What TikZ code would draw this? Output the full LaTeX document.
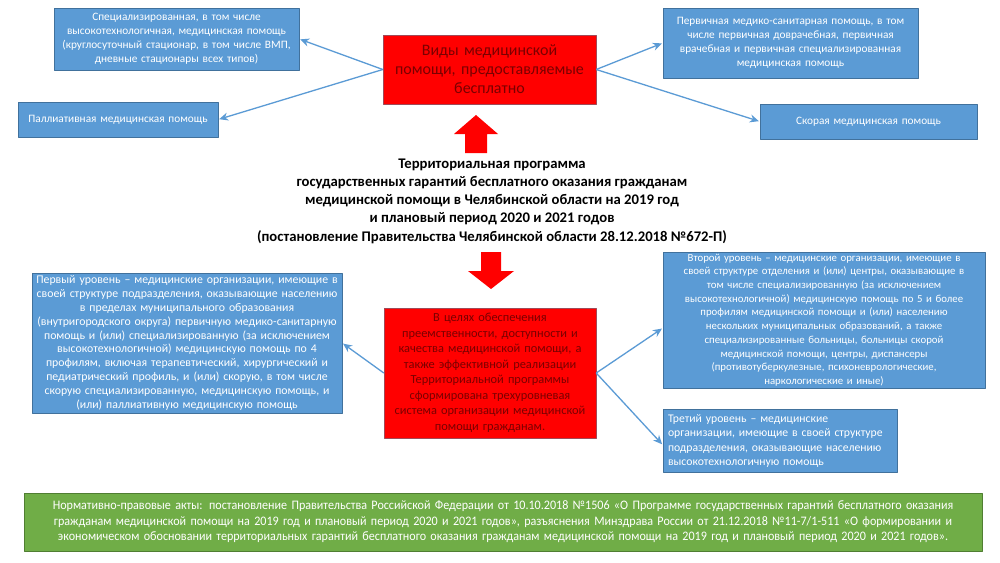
\documentclass[tikz,border=0pt]{standalone}
\usepackage{fontspec}
\setmainfont{Carlito}
\newfontfamily\narrowfont[FakeStretch=0.93]{Carlito}
\usetikzlibrary{arrows.meta}
\definecolor{boxblue}{HTML}{5B9BD5}
\definecolor{boxedge}{HTML}{41719C}
\definecolor{rededge}{HTML}{A04A58}
\definecolor{redtext}{HTML}{7A0000}
\definecolor{actgreen}{HTML}{70AD47}
\definecolor{actedge}{HTML}{507E32}
\begin{document}
\begin{tikzpicture}[x=1pt, y=-1pt, line join=round,
  bluebox/.style={draw=boxedge, fill=boxblue, text=white, align=center, inner sep=2pt, font=\fontsize{11.3}{14}\selectfont},
  redbox/.style={draw=rededge, fill=red, text=redtext, align=center, inner sep=2pt, font=\fontsize{12.4}{15.5}\selectfont},
  actbox/.style={draw=actedge, fill=actgreen, text=white, align=center, inner sep=2pt, font=\narrowfont\fontsize{13}{15.5}\selectfont},
  conn/.style={draw=boxblue, line width=1.3pt, -{Stealth[length=9pt, width=8pt]}, shorten >=1pt},
  bigarrow/.style={fill=red}]
  \fill[white] (0,0) rectangle (1000,562);
  \useasboundingbox (0,0) rectangle (1000,562);

  % top part
  \node[redbox, minimum width=213pt, minimum height=69pt, text width=209pt, font=\fontsize{16}{19}\selectfont] (types) at (489.5,69.5)
    {Виды медицинской\\ помощи, предоставляемые\\ бесплатно};
  \node[bluebox, minimum width=245pt, minimum height=62pt, text width=241pt] (spec) at (176.5,39)
    {Специализированная, в том числе\\ высокотехнологичная, медицинская помощь\\ (круглосуточный стационар, в том числе ВМП,\\ дневные стационары всех типов)};
  \node[bluebox, minimum width=200pt, minimum height=35pt, text width=196pt] (pall) at (118,119.5)
    {Паллиативная медицинская помощь};
  \node[bluebox, minimum width=255pt, minimum height=70pt, text width=251pt] (prim) at (790.5,43)
    {Первичная медико-санитарная помощь, в том\\ числе первичная доврачебная, первичная\\ врачебная и первичная специализированная\\ медицинская помощь};
  \node[bluebox, minimum width=217pt, minimum height=35pt, text width=213pt] (skor) at (868.5,121.5)
    {Скорая медицинская помощь};

  \draw[conn] (types.west) -- (spec.east);
  \draw[conn] (types.west) -- (pall.east);
  \draw[conn] (types.east) -- (prim.west);
  \draw[conn] (types.east) -- (skor.west);

  % programme
  \fill[bigarrow] (465,153) -- (465,134) -- (454,134) -- (476,115) -- (498,134) -- (487,134) -- (487,153) -- cycle;
  \node[align=center, font=\bfseries\fontsize{14.7}{18.3}\selectfont] (prog) at (492,201)
    {Территориальная программа\\ государственных гарантий бесплатного оказания гражданам\\ медицинской помощи в Челябинской области на 2019 год\\ и плановый период 2020 и 2021 годов\\ (постановление Правительства Челябинской области 28.12.2018 №672-П)};
  \fill[bigarrow] (481,252) -- (501,252) -- (501,271) -- (514,271) -- (491,289) -- (468,271) -- (481,271) -- cycle;

  % levels
  \node[redbox, minimum width=212pt, minimum height=130pt, text width=208pt] (goal) at (490,373)
    {В целях обеспечения\\ преемственности, доступности и\\ качества медицинской помощи, а\\ также эффективной реализации\\ Территориальной программы\\ сформирована трехуровневая\\ система организации медицинской\\ помощи гражданам.};
  \node[bluebox, minimum width=310pt, minimum height=140pt, text width=306pt, font=\fontsize{11.8}{13.8}\selectfont] (lvl1) at (187,343)
    {Первый уровень – медицинские организации, имеющие в\\ своей структуре подразделения, оказывающие населению\\ в пределах муниципального образования\\ (внутригородского округа) первичную медико-санитарную\\ помощь и (или) специализированную (за исключением\\ высокотехнологичной) медицинскую помощь по 4\\ профилям, включая терапевтический, хирургический и\\ педиатрический профиль, и (или) скорую, в том числе\\ скорую специализированную, медицинскую помощь, и\\ (или) паллиативную медицинскую помощь};
  \node[bluebox, minimum width=322pt, minimum height=136pt, text width=318pt, font=\fontsize{10.8}{13.7}\selectfont] (lvl2) at (824,320)
    {Второй уровень – медицинские организации, имеющие в\\ своей структуре отделения и (или) центры, оказывающие в\\ том числе специализированную (за исключением\\ высокотехнологичной) медицинскую помощь по 5 и более\\ профилям медицинской помощи и (или) населению\\ нескольких муниципальных образований, а также\\ специализированные больницы, больницы скорой\\ медицинской помощи, центры, диспансеры\\ (противотуберкулезные, психоневрологические,\\ наркологические и иные)};
  \node[bluebox, align=left, minimum width=234pt, minimum height=62pt, text width=224pt, inner sep=5pt, font=\fontsize{11.7}{14.3}\selectfont] (lvl3) at (780,441)
    {Третий уровень – медицинские\\ организации, имеющие в своей структуре\\ подразделения, оказывающие населению\\ высокотехнологичную помощь};

  \draw[conn] (goal.west) -- (lvl1.east);
  \draw[conn] (goal.east) -- ([yshift=-8pt]lvl2.west);
  \draw[conn] (goal.east) -- ([yshift=-4pt]lvl3.west);

  % legal acts
  \node[actbox, minimum width=958pt, minimum height=58pt, text width=954pt] (acts) at (503,522)
    {Нормативно-правовые акты: постановление Правительства Российской Федерации от 10.10.2018 №1506 «О Программе государственных гарантий бесплатного оказания\\ гражданам медицинской помощи на 2019 год и плановый период 2020 и 2021 годов», разъяснения Минздрава России от 21.12.2018 №11-7/1-511 «О формировании и\\ экономическом обосновании территориальных гарантий бесплатного оказания гражданам медицинской помощи на 2019 год и плановый период 2020 и 2021 годов».};
\end{tikzpicture}
\end{document}
